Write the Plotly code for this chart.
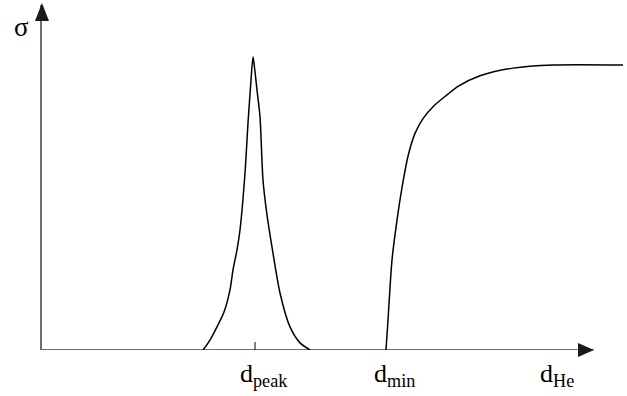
import plotly.graph_objects as go

# Sketch of cross-section sigma versus diameter d (arbitrary units)
peak_d = [1.61, 1.68, 1.75, 1.82, 1.88, 1.91, 1.95, 1.98, 2.03, 2.06, 2.09, 2.11,
          2.12, 2.15, 2.18, 2.21, 2.25, 2.30, 2.38, 2.48, 2.58, 2.68]
peak_sigma = [0.0, 0.035, 0.081, 0.133, 0.211, 0.281, 0.351, 0.421, 0.621, 0.796, 0.947, 1.028,
              1.007, 0.912, 0.818, 0.596, 0.474, 0.361, 0.2, 0.081, 0.025, 0.0]

rise_d = [3.44, 3.46, 3.50, 3.55, 3.60, 3.66, 3.73, 3.81, 3.92, 4.05, 4.16, 4.38, 4.71, 5.11, 5.81]
rise_sigma = [0.0, 0.105, 0.316, 0.456, 0.57, 0.68, 0.76, 0.812, 0.857, 0.895, 0.925, 0.962,
              0.989, 1.0, 1.0]

d_peak = 2.13
label_pos = [2.22, 3.52, 5.15]
label_text = ["d<sub>peak</sub>", "d<sub>min</sub>", "d<sub>He</sub>"]

x_axis_end = 5.52
x_max = 5.81
y_max = 1.2105

axis_grey = "#6f6f6f"
serif = "Liberation Serif, Times New Roman, serif"

fig = go.Figure()
for xs, ys in ((peak_d, peak_sigma), (rise_d, rise_sigma)):
    fig.add_trace(go.Scatter(x=xs, y=ys, mode="lines",
                             line=dict(color="black", width=1.5, shape="spline", smoothing=0.7),
                             hoverinfo="skip"))

# horizontal axis, stopping short of the curve's end
fig.add_shape(type="line", xref="x", yref="y", x0=0, x1=x_axis_end, y0=0, y1=0,
              line=dict(color=axis_grey, width=2), layer="below")
# arrowheads at the ends of both axes (paper-referenced so they are not clipped)
fig.add_shape(type="path", xref="paper", yref="paper", xsizemode="pixel", ysizemode="pixel",
              xanchor=0, yanchor=1, path="M0,2 L-7,-16 L7,-16 Z",
              fillcolor="#1a1a1a", line=dict(width=0))
fig.add_shape(type="path", xref="paper", yref="paper", xsizemode="pixel", ysizemode="pixel",
              xanchor=x_axis_end / x_max, yanchor=0, path="M0,0 L-16,7 L-16,-7 Z",
              fillcolor="#1a1a1a", line=dict(width=0))
# small tick under the peak
fig.add_shape(type="line", xref="x", yref="y", ysizemode="pixel", yanchor=0,
              x0=d_peak, x1=d_peak, y0=0, y1=8, line=dict(color="black", width=1))

for xp, txt in zip(label_pos, label_text):
    fig.add_annotation(x=xp, y=0, xref="x", yref="y", text=txt, showarrow=False,
                       yanchor="top", yshift=-7, font=dict(family=serif, size=26, color="black"))

fig.add_annotation(x=0, y=1, xref="paper", yref="paper", text="σ", showarrow=False,
                   xshift=-30, yshift=-5, font=dict(family=serif, size=27, color="black"))

fig.update_layout(
    width=627, height=396,
    margin=dict(l=42, r=4, t=5, b=46),
    paper_bgcolor="white", plot_bgcolor="white",
    showlegend=False,
    xaxis=dict(range=[0, x_max], showgrid=False, zeroline=False, showticklabels=False,
               ticks="", showline=False),
    yaxis=dict(range=[0, y_max], showgrid=False, zeroline=False, showticklabels=False,
               ticks="", showline=True, linecolor=axis_grey, linewidth=2),
)

fig.write_html("out.html", config={"displayModeBar": False})
